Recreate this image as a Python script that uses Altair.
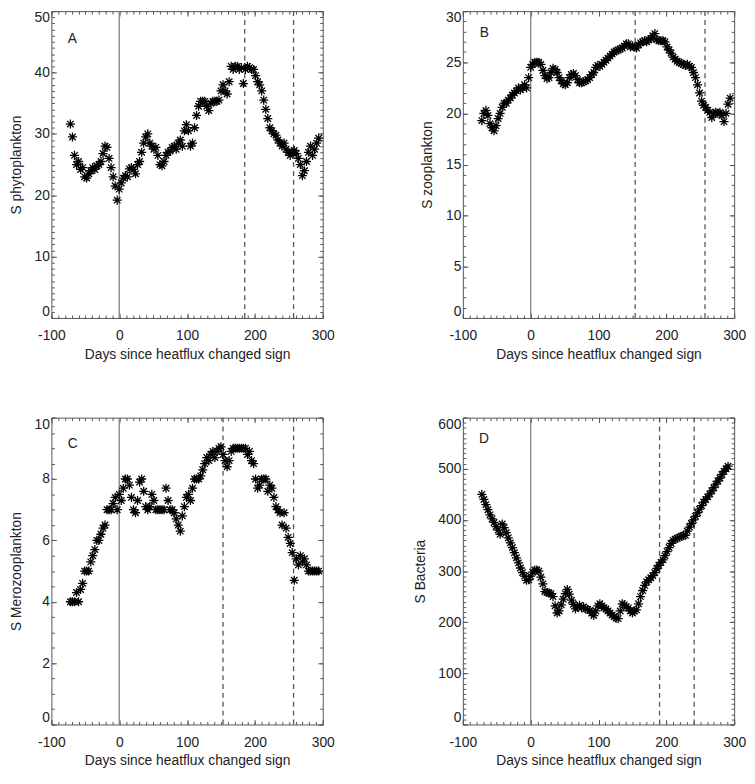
import altair as alt
import pandas as pd

FONT = "Liberation Sans"

# sampling days (every 3 days since heat flux changed sign)
days = list(range(-72, 295, 3))

phyto = [31.6, 29.5, 26.5, 25.0, 25.5, 24.2, 24.5, 23.0, 22.8, 23.5,
         24.0, 24.5, 24.2, 24.8, 25.0, 25.5, 26.8, 28.0, 27.8, 26.0,
         24.5, 23.0, 21.5, 19.2, 21.0, 22.0, 22.8, 23.2, 23.0, 24.3,
         24.5, 24.2, 23.5, 25.0, 25.5, 27.0, 28.5, 29.5, 30.0, 28.5,
         28.0, 27.5, 27.8, 26.5, 25.0, 24.8, 25.5, 26.5, 27.0, 27.2,
         27.8, 28.0, 27.5, 28.5, 29.0, 28.0, 30.5, 31.5, 30.5, 28.0,
         28.5, 31.0, 33.0, 34.5, 35.3, 35.3, 35.3, 34.5, 33.8, 35.0,
         35.3, 35.3, 35.3, 35.5, 37.0, 38.0, 37.0, 36.5, 38.5, 41.0,
         40.5, 41.0, 41.0, 40.5, 40.8, 38.2, 40.5, 41.0, 40.8, 40.5,
         40.5, 39.5, 38.5, 38.0, 37.0, 35.5, 34.0, 32.5, 31.0, 30.5,
         30.0, 29.8, 29.0, 28.5, 28.0, 28.5, 27.5, 27.0, 26.5, 27.0,
         27.3, 26.8, 26.0, 25.0, 23.2, 24.0, 25.5, 27.0, 28.0, 26.5,
         27.5, 28.5, 29.3]

zoo = [19.3, 20.0, 20.3, 19.8, 19.0, 18.6, 18.3, 18.8, 19.5, 20.0,
       20.6, 21.0, 21.0, 21.3, 21.5, 21.8, 22.0, 22.2, 22.5, 22.3,
       22.5, 22.8, 22.5, 23.5, 24.5, 24.8, 25.0, 25.0, 25.0, 24.8,
       24.2, 23.7, 23.4, 23.5, 24.0, 24.4, 24.3, 24.0, 23.5, 23.2,
       22.9, 22.8, 23.0, 23.5, 23.8, 23.9, 23.7, 23.3, 23.0, 23.0,
       23.1, 23.2, 23.3, 23.5, 23.8, 24.0, 24.5, 24.7, 24.6, 24.8,
       25.0, 25.2, 25.4, 25.6, 25.8, 26.0, 26.1, 26.2, 26.3, 26.4,
       26.6, 26.8, 26.8, 26.5, 26.6, 26.5, 26.4, 26.7, 26.9, 27.0,
       27.1, 27.0, 27.2, 27.3, 27.6, 27.8, 27.2, 27.1, 27.1, 27.1,
       27.0, 26.5, 26.2, 25.9, 25.5, 25.3, 25.1, 25.0, 24.9, 24.8,
       24.7, 24.8, 24.6, 24.5, 24.0, 23.5, 22.8, 22.0, 21.2, 20.8,
       20.6, 20.3, 20.1, 19.6, 20.0, 20.1, 20.0, 20.1, 19.8, 19.2,
       20.0, 20.9, 21.5]

mero = [4.0, 4.0, 4.0, 4.3, 4.0, 4.4, 4.6, 5.0, 5.0, 5.0,
        5.3, 5.5, 5.7, 6.0, 6.0, 6.2, 6.4, 6.5, 7.0, 7.0,
        7.0, 7.2, 7.4, 7.0, 7.5, 7.3, 7.7, 8.0, 8.0, 7.8,
        7.4, 7.0, 6.9, 7.3, 7.9, 8.0, 7.6, 7.1, 7.0, 7.1,
        7.5, 7.3, 7.0, 7.0, 7.0, 7.0, 7.0, 7.7, 7.3, 7.0,
        7.0, 6.9, 6.7, 6.5, 6.3, 6.8, 7.1, 7.4, 7.5, 7.3,
        7.7, 8.0, 8.0, 8.0, 8.1, 8.3, 8.5, 8.7, 8.6, 8.8,
        8.9, 8.7, 8.9, 9.0, 9.05, 8.8, 8.6, 8.4, 8.6, 8.9,
        9.0, 9.0, 9.0, 9.0, 9.0, 9.0, 9.0, 8.8, 8.9, 8.6,
        8.5, 8.0, 7.7, 7.8, 8.0, 8.0, 8.0, 7.6, 7.8, 7.7,
        7.4, 7.1, 7.0, 6.9, 6.5, 6.9, 6.4, 6.1, 5.9, 5.6,
        4.7, 5.4, 5.2, 5.5, 5.3, 5.4, 5.2, 5.0, 5.0, 5.0,
        5.0, 5.0, 5.0]

bact = [450, 440, 430, 420, 410, 402, 395, 387, 380, 372,
        392, 385, 375, 365, 355, 346, 336, 326, 316, 306,
        297, 290, 282, 283, 290, 298, 302, 302, 300, 288,
        275, 260, 258, 257, 256, 250, 232, 218, 222, 234,
        245, 256, 264, 255, 243, 235, 226, 230, 233, 228,
        230, 226, 225, 223, 218, 213, 222, 232, 236, 232,
        228, 226, 222, 218, 214, 211, 208, 207, 222, 236,
        234, 230, 228, 222, 218, 222, 224, 236, 250, 262,
        272, 279, 283, 287, 291, 297, 305, 311, 317, 322,
        330, 338, 346, 354, 360, 362, 364, 366, 368, 369,
        370, 378, 386, 393, 400, 407, 414, 421, 428, 435,
        440, 445, 451, 457, 463, 470, 476, 482, 489, 495,
        500, 505]

series = [phyto, zoo, mero, bact]
letters = ["A", "B", "C", "D"]
y_titles = ["S phytoplankton", "S zooplankton", "S Merozooplankton", "S Bacteria"]
y_max = [50, 30, 10, 600]
y_major = [list(range(0, 51, 10)), list(range(0, 31, 5)),
           list(range(0, 11, 2)), list(range(0, 601, 100))]
y_minor = [list(range(0, 51, 1)), list(range(0, 31, 1)),
           [i / 2 for i in range(21)], list(range(0, 601, 10))]
dashed_days = [[185, 257], [154, 257], [153, 257], [190, 241]]
letter_x = [-76, -75, -76, -76]
letter_y = [45.5, 27.9, 9.15, 558]
x_major = [-100, 0, 100, 200, 300]
x_minor = list(range(-100, 301, 10))
x_title = "Days since heatflux changed sign"

ASTER = "M-1,0L1,0M0,-1L0,1M-0.71,-0.71L0.71,0.71M-0.71,0.71L0.71,-0.71"
HYPHEN = "'' + datum.value"


def tick_axis(orient, values, size):
    return alt.Axis(orient=orient, values=values, tickSize=size, offset=-size,
                    labels=False, title=None, minExtent=0, maxExtent=0)


def panel(i):
    vals = series[i]
    df = pd.DataFrame({"day": days[:len(vals)], "val": vals})
    xs = alt.Scale(domain=[-100, 300], nice=False, zero=False)
    ys = alt.Scale(domain=[0, y_max[i]], nice=False, zero=False)

    pts = alt.Chart(df).mark_point(
        shape=ASTER, filled=False, size=85, strokeWidth=1.3, color="black", opacity=1
    ).encode(
        x=alt.X("day:Q", scale=xs,
                axis=alt.Axis(orient="bottom", values=x_major, tickSize=5, offset=-5,
                              labelPadding=11, labelFlush=False, labelExpr=HYPHEN,
                              title=x_title, titlePadding=5, minExtent=0)),
        y=alt.Y("val:Q", scale=ys,
                axis=alt.Axis(orient="left", values=y_major[i], tickSize=5, offset=-5,
                              labelPadding=2, labelFlush=True, labelExpr=HYPHEN,
                              title=y_titles[i], titlePadding=11, minExtent=0)),
    )

    zero = alt.Chart(pd.DataFrame({"day": [0]})).mark_rule(
        color="#8a8a8a", strokeWidth=1.4
    ).encode(
        x=alt.X("day:Q", scale=xs, axis=tick_axis("bottom", x_minor, 3)),
        y=alt.Y(datum=0, scale=ys, axis=tick_axis("left", y_minor[i], 3)),
        y2=alt.Y2(datum=y_max[i]),
    )

    dashed = alt.Chart(pd.DataFrame({"day": dashed_days[i]})).mark_rule(
        color="#555555", strokeWidth=1.3, strokeDash=[5, 4]
    ).encode(
        x=alt.X("day:Q", scale=xs, axis=tick_axis("top", x_major, 5)),
        y=alt.Y(datum=0, scale=ys, axis=tick_axis("right", y_major[i], 5)),
        y2=alt.Y2(datum=y_max[i]),
    )

    lab = alt.Chart(pd.DataFrame({"day": [letter_x[i]], "val": [letter_y[i]],
                                  "txt": [letters[i]]})).mark_text(
        align="left", baseline="middle", font=FONT, fontSize=14, color="#222222"
    ).encode(
        x=alt.X("day:Q", scale=xs, axis=tick_axis("top", x_minor, 3)),
        y=alt.Y("val:Q", scale=ys, axis=tick_axis("right", y_minor[i], 3)),
        text="txt:N",
    )

    return alt.layer(zero, dashed, pts, lab).resolve_axis(
        x="independent", y="independent"
    ).properties(width=275, height=311)


chart = alt.concat(
    panel(0), panel(1), panel(2), panel(3),
    columns=2, spacing={"row": 54, "column": 78}
).properties(
    padding={"top": -4, "left": 0, "right": 0, "bottom": 0}
).configure_view(
    stroke="#555555", strokeWidth=1
).configure_axis(
    domain=False, grid=False, tickColor="#555555", tickWidth=1,
    labelFont=FONT, labelFontSize=14, labelColor="#222222",
    titleFont=FONT, titleFontSize=14, titleFontWeight="normal", titleColor="#222222"
)

chart.save("out.html", embed_options={"renderer": "svg", "actions": False})
